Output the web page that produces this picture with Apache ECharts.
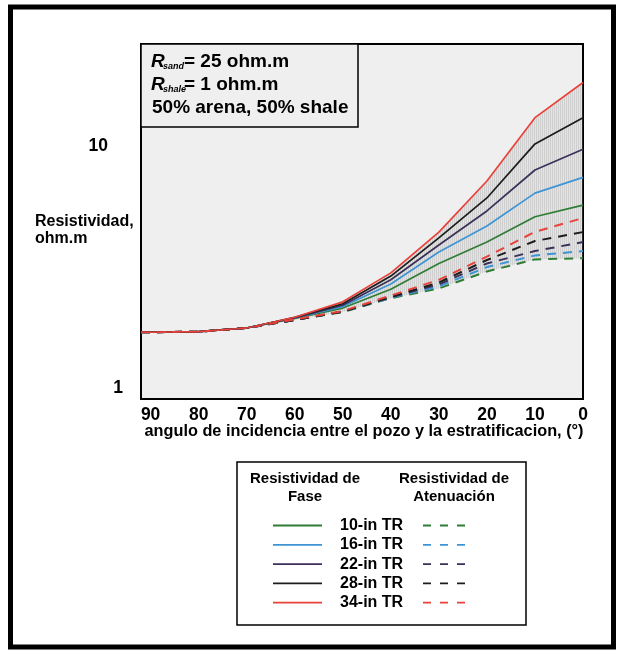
<!DOCTYPE html>
<html><head><meta charset="utf-8">
<script src="https://cdn.jsdelivr.net/npm/echarts@6/dist/echarts.min.js"></script>
<style>html,body{margin:0;padding:0;background:#fff}#c{width:624px;height:652px}</style>
</head><body><div id="c"></div>
<script>
const angles  = [92, 90, 80, 70, 60, 50, 40, 30, 20, 10, 0];
const phase10 = [1.70, 1.70, 1.71, 1.77, 1.94, 2.14, 2.56, 3.27, 4.01, 5.10, 5.70];
const phase16 = [1.70, 1.70, 1.71, 1.77, 1.95, 2.17, 2.69, 3.65, 4.67, 6.39, 7.42];
const phase22 = [1.70, 1.70, 1.71, 1.77, 1.95, 2.20, 2.80, 3.90, 5.39, 7.96, 9.69];
const phase28 = [1.70, 1.70, 1.71, 1.77, 1.96, 2.23, 2.90, 4.17, 6.10, 10.2, 13.1];
const phase34 = [1.70, 1.70, 1.71, 1.77, 1.96, 2.27, 2.99, 4.41, 7.17, 13.1, 18.3];
const att10   = [1.70, 1.70, 1.71, 1.77, 1.91, 2.06, 2.35, 2.58, 3.03, 3.40, 3.44];
const att16   = [1.70, 1.70, 1.71, 1.77, 1.91, 2.07, 2.36, 2.63, 3.16, 3.53, 3.68];
const att22   = [1.70, 1.70, 1.71, 1.77, 1.91, 2.07, 2.37, 2.68, 3.27, 3.68, 4.01];
const att28   = [1.70, 1.70, 1.71, 1.77, 1.91, 2.07, 2.38, 2.73, 3.38, 4.05, 4.41];
const att34   = [1.70, 1.70, 1.71, 1.77, 1.92, 2.08, 2.41, 2.80, 3.49, 4.42, 5.04];
const spacings = ['10-in TR', '16-in TR', '22-in TR', '28-in TR', '34-in TR'];
const xTicks = [90, 80, 70, 60, 50, 40, 30, 20, 10, 0];
const yTicks = [1, 10];

const colors = ['#2f7d34', '#3d95d6', '#3b3058', '#1c1c1c', '#e8423b'];
const phases = [phase10, phase16, phase22, phase28, phase34];
const atts = [att10, att16, att22, att28, att34];
const F = 'Liberation Sans, Arial, sans-serif';

const pc = document.createElement('canvas');
pc.width = 2; pc.height = 4;
const pctx = pc.getContext('2d');
pctx.fillStyle = 'rgba(140,140,140,0.10)';
pctx.fillRect(0, 0, 2, 4);
pctx.fillStyle = 'rgba(130,130,130,0.22)';
pctx.fillRect(0, 0, 1, 4);

const pts = (arr) => angles.map((a, i) => [a, arr[i]]);
const series = [];
series.push({
  type: 'custom', z: 1, silent: true, clip: true,
  data: [[0, 5]],
  renderItem: function (params, api) {
    const top = angles.map((a, i) => api.coord([a, phase34[i]]));
    const bot = angles.map((a, i) => api.coord([a, att10[i]])).reverse();
    return { type: 'polygon', shape: { points: top.concat(bot) },
      style: { fill: { image: pc, repeat: 'repeat' }, stroke: null } };
  }
});
phases.forEach((p, k) => series.push({
  type: 'line', data: pts(p), symbol: 'none', z: 3,
  lineStyle: { color: colors[k], width: 1.7 }
}));
atts.forEach((p, k) => series.push({
  type: 'line', data: pts(p), symbol: 'none', z: 4,
  lineStyle: { color: colors[k], width: 2, type: [9, 7] }
}));

const g = [];
g.push({ type: 'rect', shape: { x: 10.5, y: 7, width: 603, height: 640 }, style: { fill: null, stroke: '#000', lineWidth: 5 }, z: 100 });
// annotation box
g.push({ type: 'rect', shape: { x: 141, y: 44, width: 217, height: 83 }, style: { fill: '#efefef', stroke: '#000', lineWidth: 1.5 }, z: 50 });
const boxLines = [['R', 'sand', '= 25 ohm.m', 62], ['R', 'shale', '= 1 ohm.m', 85]];
boxLines.forEach(b => {
  g.push({ type: 'text', x: 151, y: b[3], z: 51, style: { text: b[0], font: 'italic bold 19px ' + F, fill: '#000', textVerticalAlign: 'middle' } });
  g.push({ type: 'text', x: 163, y: b[3] + 5, z: 51, style: { text: b[1], font: 'italic bold 9px ' + F, fill: '#000', textVerticalAlign: 'middle' } });
  g.push({ type: 'text', x: 184, y: b[3], z: 51, style: { text: b[2], font: 'bold 19px ' + F, fill: '#000', textVerticalAlign: 'middle' } });
});
g.push({ type: 'text', x: 152, y: 108, z: 51, style: { text: '50% arena, 50% shale', font: 'bold 19px ' + F, fill: '#000', textVerticalAlign: 'middle' } });
// axis titles
g.push({ type: 'text', x: 35, y: 222, style: { text: 'Resistividad,', font: 'bold 16px ' + F, fill: '#000', textVerticalAlign: 'middle' } });
g.push({ type: 'text', x: 35, y: 239, style: { text: 'ohm.m', font: 'bold 16px ' + F, fill: '#000', textVerticalAlign: 'middle' } });
g.push({ type: 'text', x: 364, y: 432, style: { text: 'angulo de incidencia entre el pozo y la estratificacion, (°)', font: 'bold 16.3px ' + F, fill: '#000', textAlign: 'center', textVerticalAlign: 'middle' } });
// legend
g.push({ type: 'rect', shape: { x: 237, y: 462, width: 289, height: 163 }, style: { fill: '#fff', stroke: '#000', lineWidth: 1.5 } });
g.push({ type: 'text', x: 305, y: 479, style: { text: 'Resistividad de', font: 'bold 15px ' + F, fill: '#000', textAlign: 'center', textVerticalAlign: 'middle' } });
g.push({ type: 'text', x: 305, y: 497, style: { text: 'Fase', font: 'bold 15px ' + F, fill: '#000', textAlign: 'center', textVerticalAlign: 'middle' } });
g.push({ type: 'text', x: 454, y: 479, style: { text: 'Resistividad de', font: 'bold 15px ' + F, fill: '#000', textAlign: 'center', textVerticalAlign: 'middle' } });
g.push({ type: 'text', x: 454, y: 497, style: { text: 'Atenuación', font: 'bold 15px ' + F, fill: '#000', textAlign: 'center', textVerticalAlign: 'middle' } });
spacings.forEach((s, k) => {
  const y = 525.5 + k * 19.3;
  g.push({ type: 'line', shape: { x1: 273, y1: y, x2: 322, y2: y }, style: { stroke: colors[k], lineWidth: 1.8 } });
  g.push({ type: 'text', x: 340, y: y, style: { text: s, font: 'bold 16px ' + F, fill: '#000', textVerticalAlign: 'middle' } });
  g.push({ type: 'line', shape: { x1: 423, y1: y, x2: 470, y2: y }, style: { stroke: colors[k], lineWidth: 1.8, lineDash: [8, 9] } });
});

const chart = echarts.init(document.getElementById('c'), null, { renderer: 'canvas' });
chart.setOption({
  animation: false,
  backgroundColor: '#fff',
  grid: { left: 141, right: 41, top: 44, bottom: 253, show: true, backgroundColor: '#efefef', borderColor: '#000', borderWidth: 2 },
  xAxis: {
    type: 'value', inverse: true, min: 0, max: 92, interval: 10,
    axisLine: { show: true, lineStyle: { color: '#000', width: 2 } },
    axisTick: { show: false }, splitLine: { show: false },
    axisLabel: { color: '#000', fontSize: 17.5, fontWeight: 'bold', fontFamily: F, margin: 7, showMaxLabel: false,
      formatter: v => xTicks.indexOf(v) >= 0 ? String(v) : '' }
  },
  yAxis: {
    type: 'log', logBase: 10, min: 0.9006, max: 26.4,
    axisLine: { show: true, lineStyle: { color: '#000', width: 2 } },
    axisTick: { show: false }, splitLine: { show: false }, minorTick: { show: false },
    axisLabel: { color: '#000', fontSize: 17.5, fontWeight: 'bold', fontFamily: F, margin: 18, align: 'right',
      showMinLabel: true, showMaxLabel: true,
      formatter: v => {
        const m = yTicks.find(t => Math.abs(t - v) < 1e-6 * t);
        if (m === undefined) return '';
        return m === 10 ? '{ten|10}' : '{one|1}';
      },
      rich: {
        ten: { fontSize: 17.5, fontWeight: 'bold', fontFamily: F, color: '#000', padding: [0, 15, 0, 0] },
        one: { fontSize: 17.5, fontWeight: 'bold', fontFamily: F, color: '#000' }
      }
    }
  },
  series: series,
  graphic: g
});
</script></body></html>
